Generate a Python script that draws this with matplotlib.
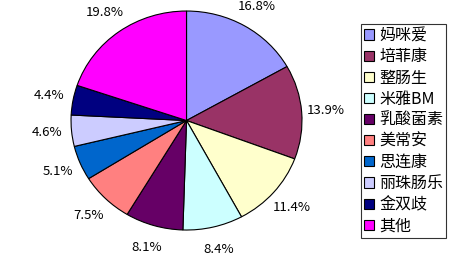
import matplotlib
matplotlib.use("Agg")
import matplotlib.pyplot as plt
from matplotlib.patches import Patch

plt.rcParams['font.family'] = ['Noto Sans CJK SC', 'DejaVu Sans']

labels = ['妈咪爱', '培菲康', '整肠生', '米雅BM', '乳酸菌素', '美常安', '思连康', '丽珠肠乐', '金双歧', '其他']
values = [16.8, 13.9, 11.4, 8.4, 8.1, 7.5, 5.1, 4.6, 4.4, 19.8]
colors = ['#9999FF', '#993366', '#FFFFCC', '#CCFFFF', '#660066', '#FF8080', '#0066CC', '#CCCCFF', '#000080', '#FF00FF']

fig = plt.figure(figsize=(4.71, 2.60), dpi=100)
ax = fig.add_axes([0.1508, 0.1153, 0.4904, 0.8423])
wedges, texts, autotexts = ax.pie(values, colors=colors, startangle=90, counterclock=False,
                                  autopct='%.1f%%', pctdistance=1.21,
                                  wedgeprops=dict(edgecolor='black', linewidth=0.8))
for t in autotexts:
    t.set_fontsize(9.5)
    t.set_color('black')
ax.set_xlim(-1.0, 1.0)
ax.set_ylim(-1.0, 1.0)
ax.set_aspect('auto')

handles = [Patch(facecolor=c, edgecolor='black', linewidth=0.8) for c in colors]
leg = fig.legend(handles, labels, loc='upper left', bbox_to_anchor=(0.766, 0.908),
                 fontsize=11.5, frameon=True, fancybox=False, edgecolor='black',
                 handlelength=0.6, handleheight=0.6, handletextpad=0.35,
                 labelspacing=0.26, borderpad=0.2, borderaxespad=0)
leg.get_frame().set_linewidth(0.8)

fig.savefig('out.png', dpi=100)
